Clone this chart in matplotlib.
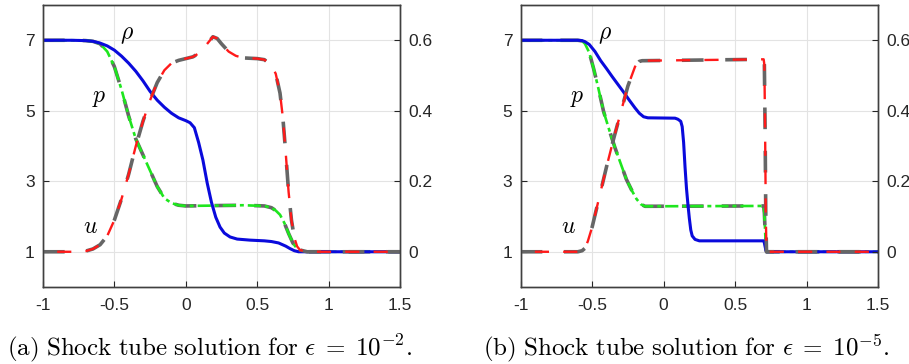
import matplotlib
matplotlib.use('Agg')
import matplotlib.pyplot as plt

plt.rcParams['font.family'] = ['Liberation Sans', 'DejaVu Sans']
plt.rcParams['mathtext.fontset'] = 'cm'

# (a) eps = 1e-2
x_rho_a = [-1, -0.8, -0.7, -0.65, -0.6, -0.55, -0.5, -0.45, -0.4, -0.35, -0.3, -0.25, -0.2, -0.15, -0.1,
           -0.05, 0.0, 0.03, 0.06, 0.09, 0.12, 0.15, 0.18, 0.21, 0.24, 0.27, 0.31, 0.36, 0.45, 0.55, 0.6,
           0.65, 0.7, 0.73, 0.76, 0.79, 0.85, 1.5]
rho_a = [7, 7, 6.99, 6.97, 6.92, 6.84, 6.72, 6.55, 6.35, 6.12, 5.85, 5.55, 5.3, 5.1, 4.93,
         4.8, 4.72, 4.66, 4.52, 4.1, 3.6, 2.95, 2.4, 1.98, 1.7, 1.53, 1.42, 1.36, 1.33, 1.31, 1.29,
         1.25, 1.16, 1.09, 1.03, 1.0, 1.0, 1.0]
x_p_a = [-1, -0.75, -0.7, -0.65, -0.6, -0.55, -0.5, -0.45, -0.4, -0.35, -0.3, -0.25, -0.2, -0.15, -0.1,
         -0.05, 0.0, 0.2, 0.4, 0.55, 0.6, 0.63, 0.66, 0.69, 0.72, 0.75, 0.78, 0.81, 0.85, 1.5]
p_a = [7, 7, 6.99, 6.97, 6.9, 6.68, 6.25, 5.6, 4.85, 4.2, 3.75, 3.3, 2.85, 2.52, 2.38,
       2.32, 2.3, 2.31, 2.32, 2.3, 2.25, 2.17, 2.05, 1.82, 1.52, 1.25, 1.08, 1.01, 1.0, 1.0]
x_u_a = [-1, -0.75, -0.7, -0.65, -0.6, -0.55, -0.5, -0.45, -0.4, -0.35, -0.3, -0.25, -0.2, -0.15, -0.1,
         -0.05, 0.0, 0.05, 0.1, 0.15, 0.19, 0.22, 0.25, 0.3, 0.35, 0.4, 0.45, 0.5, 0.55, 0.6, 0.63,
         0.66, 0.68, 0.7, 0.72, 0.74, 0.76, 0.78, 0.8, 0.85, 1.5]
u_a = [0, 0, 0.002, 0.008, 0.02, 0.045, 0.09, 0.15, 0.22, 0.3, 0.37, 0.43, 0.48, 0.515, 0.535,
       0.543, 0.548, 0.553, 0.565, 0.59, 0.61, 0.605, 0.59, 0.568, 0.556, 0.55, 0.549, 0.548, 0.545, 0.53, 0.505,
       0.45, 0.38, 0.28, 0.17, 0.09, 0.04, 0.015, 0.005, 0, 0]

# (b) eps = 1e-5
x_rho_b = [-1, -0.6, -0.57, -0.55, -0.52, -0.48, -0.44, -0.4, -0.36, -0.32, -0.28, -0.24, -0.2, -0.17,
           -0.14, -0.11, 0.08, 0.1, 0.12, 0.13, 0.14, 0.15, 0.16, 0.17, 0.18, 0.19, 0.2, 0.22, 0.25,
           0.7, 0.705, 0.71, 0.715, 0.72, 1.5]
rho_b = [7, 7, 6.99, 6.96, 6.88, 6.68, 6.42, 6.2, 5.97, 5.75, 5.53, 5.3, 5.08, 4.93,
         4.83, 4.8, 4.79, 4.76, 4.7, 4.55, 4.1, 3.4, 2.8, 2.35, 1.95, 1.62, 1.45, 1.35, 1.31,
         1.31, 1.25, 1.15, 1.05, 1.0, 1.0]
x_p_b = [-1, -0.6, -0.57, -0.55, -0.52, -0.49, -0.46, -0.42, -0.38, -0.34, -0.3, -0.26, -0.22, -0.19,
         -0.16, -0.13, 0.7, 0.705, 0.71, 0.715, 0.72, 1.5]
p_b = [7, 7, 6.98, 6.9, 6.65, 6.2, 5.7, 4.98, 4.45, 3.95, 3.5, 3.05, 2.72, 2.5,
       2.35, 2.29, 2.3, 2.1, 1.6, 1.15, 1.0, 1.0]
x_u_b = [-1, -0.6, -0.57, -0.55, -0.53, -0.5, -0.45, -0.4, -0.35, -0.3, -0.25, -0.2, -0.17, -0.15,
         0.7, 0.705, 0.71, 0.715, 0.72, 1.5]
u_b = [0, 0, 0.003, 0.01, 0.03, 0.07, 0.155, 0.24, 0.32, 0.395, 0.47, 0.525, 0.54, 0.542,
       0.546, 0.53, 0.35, 0.1, 0, 0]

xticks = [-1, -0.5, 0, 0.5, 1, 1.5]
xticklabels = ['-1', '-0.5', '0', '0.5', '1', '1.5']
left_ticks = [1, 3, 5, 7]
right_ticks = [0, 0.2, 0.4, 0.6]
right_labels = ['0', '0.2', '0.4', '0.6']
captions = [r'$\mathrm{(a)\ Shock\ tube\ solution\ for\ }\epsilon\;=\;10^{-2}\mathrm{.}$',
            r'$\mathrm{(b)\ Shock\ tube\ solution\ for\ }\epsilon\;=\;10^{-5}\mathrm{.}$']

GRAY = '#666666'


def panel(fig, rect, xr, rho, xp, p, xu, u, cap, capx):
    ax = fig.add_axes(rect)
    ax2 = ax.twinx()
    # reference (gray dashed) under the computed curves
    ax.plot(xp, p, color=GRAY, lw=2.6, linestyle=(0, (6, 5)))
    ax.plot(xp, p, color='#1ee61e', lw=1.9, linestyle=(5.5, (5, 1.5, 1.5, 1.5)))
    ax.plot(xr, rho, color='#0a0adc', lw=2.2)
    ax2.plot(xu, u, color=GRAY, lw=2.6, linestyle=(0, (6, 6)))
    ax2.plot(xu, u, color='#ff1a1a', lw=1.7, linestyle=(6, (6, 6)))

    ax.set_xlim(-1, 1.5)
    ax.set_ylim(0, 8)
    ax2.set_ylim(-0.1, 0.7)
    ax.set_xticks(xticks)
    ax.set_xticklabels(xticklabels)
    ax.set_yticks(left_ticks)
    ax2.set_yticks(right_ticks)
    ax2.set_yticklabels(right_labels)
    ax.grid(True, color='#e3e3e3', lw=0.8)
    ax.set_axisbelow(True)
    for a in (ax, ax2):
        a.tick_params(direction='in', length=4, labelsize=12.5, colors='#262626', width=0.8)
        for s in a.spines.values():
            s.set_color('#404040')
            s.set_linewidth(1.0)
    ax.tick_params(axis='x', pad=8)
    ax.tick_params(axis='y', pad=6)
    ax2.tick_params(axis='y', pad=6)

    ax.text(-0.41, 7.15, r'$\rho$', fontsize=17, ha='center', va='center')
    ax.text(-0.605, 5.35, r'$p$', fontsize=17, ha='center', va='center')
    ax.text(-0.665, 1.71, r'$u$', fontsize=17, ha='center', va='center')
    fig.text(capx, 0.044, cap, fontsize=18, ha='center', va='center')


fig = plt.figure(figsize=(9.09, 3.64), dpi=100)
panel(fig, [0.0473, 0.2115, 0.3927, 0.7747], x_rho_a, rho_a, x_p_a, p_a, x_u_a, u_a, captions[0], 210 / 909)
panel(fig, [0.5728, 0.2115, 0.3931, 0.7747], x_rho_b, rho_b, x_p_b, p_b, x_u_b, u_b, captions[1], 686 / 909)

fig.savefig('out.png', dpi=100)
